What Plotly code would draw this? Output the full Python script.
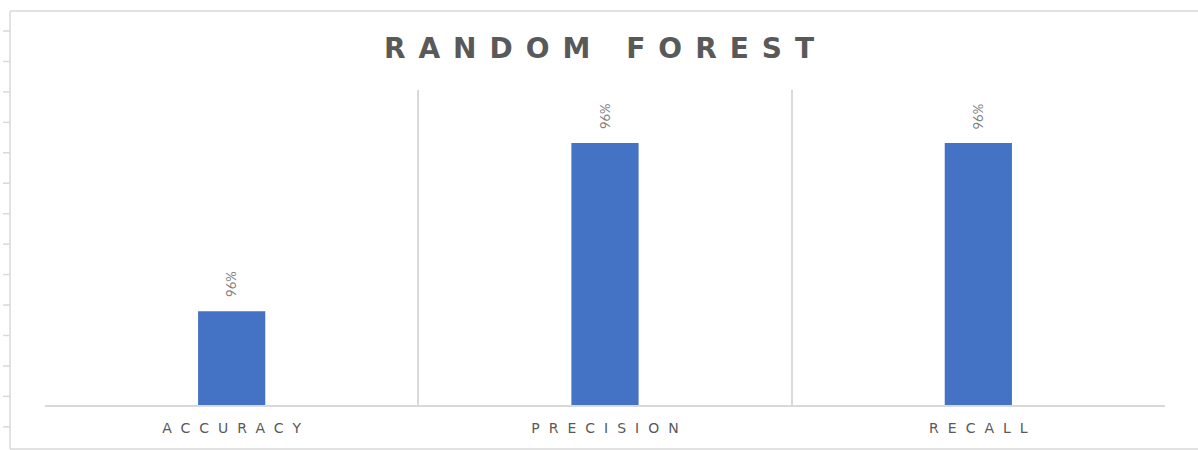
import plotly.graph_objects as go

categories = ["ACCURACY", "PRECISION", "RECALL"]
values = [0.9577, 0.9615, 0.9615]
title_text = "RANDOM FOREST"

W, H = 1198, 450
L, R, T, B = 45, 33, 90, 45
PW, PH = W - L - R, H - T - B


def px(x):
    return (x - L) / PW


def py(y):
    return (H - B - y) / PH


def spaced(s, sp):
    # letter-spacing on all but the last character, so the text stays centred
    return '<span style="letter-spacing:%spx">%s</span>%s' % (sp, s[:-1], s[-1])


fig = go.Figure()
fig.add_trace(go.Bar(
    x=categories, y=values,
    marker=dict(color="#4472C4", line=dict(width=0)),
    width=0.18,
    hoverinfo="skip",
))

# value labels above the bars
for c, v in zip(categories, values):
    fig.add_annotation(
        x=c, y=v, xref="x", yref="y",
        text="%d%%" % round(v * 100),
        textangle=-90, showarrow=False,
        xanchor="center", yanchor="bottom", yshift=12,
        font=dict(family="Lato, Open Sans, sans-serif", size=13, color="#7f7f7f"),
    )

grey = "#d9d9d9"
shapes = []
# outer frame
shapes.append(dict(type="line", xref="paper", yref="paper", x0=px(10), x1=px(1198), y0=py(11), y1=py(11), line=dict(color=grey, width=1.5)))
shapes.append(dict(type="line", xref="paper", yref="paper", x0=px(10), x1=px(1198), y0=py(449), y1=py(449), line=dict(color=grey, width=1.5)))
shapes.append(dict(type="line", xref="paper", yref="paper", x0=px(10), x1=px(10), y0=py(11), y1=py(449), line=dict(color=grey, width=1.5)))
for i in range(14):
    yy = 31 + i * 30.45
    shapes.append(dict(type="line", xref="paper", yref="paper", x0=px(3), x1=px(10), y0=py(yy), y1=py(yy), line=dict(color=grey, width=1.5)))

fig.update_layout(
    width=W, height=H,
    margin=dict(l=L, r=R, t=T, b=B),
    paper_bgcolor="white", plot_bgcolor="white",
    showlegend=False,
    title=dict(
        text=spaced(title_text, 13),
        x=0.5, xanchor="center", y=1 - 48 / H, yanchor="middle",
        font=dict(family="DejaVu Sans, sans-serif", size=28, color="#595959", weight="bold"),
    ),
    xaxis=dict(
        type="category",
        tickvals=categories,
        ticktext=[spaced(c, 9) for c in categories],
        tickson="boundaries", ticks="", showgrid=True, gridcolor=grey, gridwidth=1.5,
        showline=True, linecolor=grey, linewidth=1.5, mirror=False,
        tickfont=dict(family="DejaVu Sans, sans-serif", size=14, color="#595959"),
        ticklabelstandoff=9,
        range=[-0.5, 2.5],
    ),
    yaxis=dict(
        range=[0.95558, 0.9627], showgrid=False, showticklabels=False, zeroline=False,
        showline=False, ticks="",
    ),
    shapes=shapes,
    bargap=0.82,
)

fig.write_html("out.html", config={"displayModeBar": False},
               post_script="document.body.style.margin='0px';")
